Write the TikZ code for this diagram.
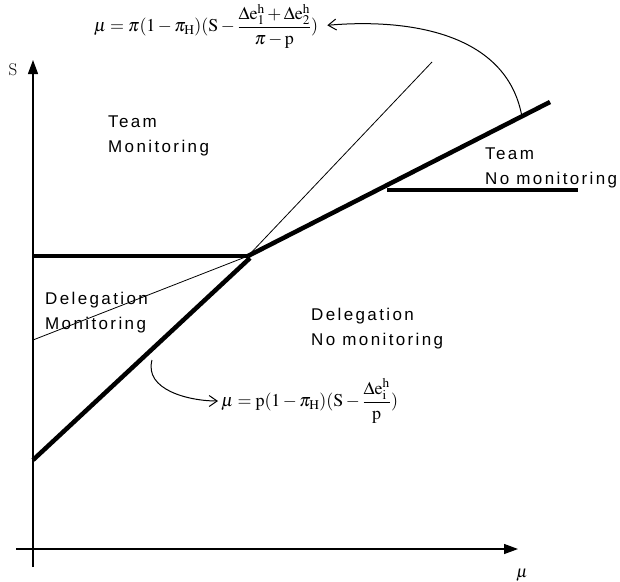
\documentclass[tikz,border=0pt]{standalone}
\usepackage{amsmath}
\usepackage{mathptmx}
\usepackage{fontspec}
\setsansfont[LetterSpace=14]{Liberation Sans}
\usetikzlibrary{arrows.meta, positioning}

\begin{document}
\begin{tikzpicture}[x=1pt, y=-1pt,
  region/.style={font=\sffamily\fontsize{17}{25}\selectfont, align=left, anchor=north west, inner sep=0pt},
  formula/.style={font=\fontsize{18}{21}\selectfont, inner sep=1pt},
  boundary/.style={line width=4.5pt},
  axis/.style={line width=1.3pt, -{Triangle[length=14pt,width=10pt]}}]
  \useasboundingbox (0,0) rectangle (620,581);
  % axes
  \coordinate (ytop) at (33,60);
  \coordinate (ybot) at (33,567);
  \coordinate (xleft) at (16,549);
  \coordinate (xright) at (518,549);
  \draw[axis] (ybot) -- (ytop);
  \draw[axis] (xleft) -- (xright);
  \node[font=\fontsize{17}{20}\selectfont] (slab) at (13,70) {S};
  \node[font=\fontsize{17}{20}\selectfont] (mulab) at (522,575) {$\mu$};
  % boundaries
  \coordinate (cross) at (248,256);
  \coordinate (hleft) at (33,256);
  \coordinate (dleft) at (33,460);
  \coordinate (dtop) at (250,258);
  \coordinate (tright) at (550,102);
  \coordinate (nleft) at (387,190);
  \coordinate (nright) at (578,190);
  \coordinate (mleft) at (33,340);
  \coordinate (steep) at (432,62);
  \draw[boundary] (hleft) -- (cross);
  \draw[boundary] (dleft) -- (dtop);
  \draw[boundary] (cross) -- (tright);
  \draw[boundary] (nleft) -- (nright);
  \draw[line width=0.8pt] (mleft) -- (cross) -- (steep);
  % regions
  \node[region] (tm) at (108,116) {Team\\Monitoring};
  \node[region] (tn) at (485,148) {Team\\No monitoring};
  \node[region] (dm) at (45,292) {Delegation\\Monitoring};
  \node[region] (dn) at (311,308) {Delegation\\No monitoring};
  % formulas
  \node[formula] (topf) at (206,26)
    {$\mathrm{\mu}=\pi(1-\pi_{\mathrm{H}})(\mathrm{S}-\dfrac{\Delta\mathrm{e}_{1}^{\mathrm{h}}+\Delta\mathrm{e}_{2}^{\mathrm{h}}}{\pi-\mathrm{p}})$};
  \node[formula, anchor=west] (lowf) at (220,401)
    {$\mu=\mathrm{p}(1-\pi_{\mathrm{H}})(\mathrm{S}-\dfrac{\Delta\mathrm{e}_{\mathrm{i}}^{\mathrm{h}}}{\mathrm{p}})$};
  \coordinate (thook) at (522,117);
  \coordinate (dhook) at (152,360);
  \draw[line width=1pt, shorten >=8pt, -{Straight Barb[length=8pt,width=11pt]}] (thook) to[out=100, in=5] (topf.east);
  \draw[line width=1pt, shorten >=2pt, -{Straight Barb[length=8pt,width=11pt]}] (dhook) to[out=-105, in=180] (lowf.west);
\end{tikzpicture}
\end{document}
